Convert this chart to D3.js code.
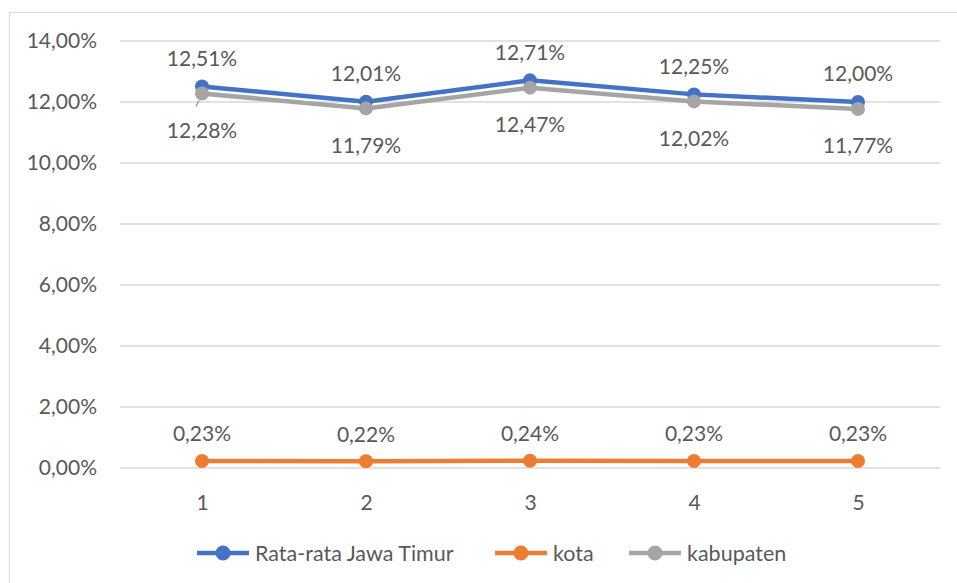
<!DOCTYPE html>
<html>
<head>
<meta charset="utf-8">
<script src="https://cdn.jsdelivr.net/npm/d3@7"></script>
<style>
  body { margin: 0; background: #fff; }
  text { font-family: Lato, "Open Sans", sans-serif; fill: #595959; }
</style>
</head>
<body>
<div id="chart"></div>
<script>
const categories = ["1", "2", "3", "4", "5"];
const rataRata = [12.51, 12.01, 12.71, 12.25, 12.00];
const kota = [0.23, 0.22, 0.24, 0.23, 0.23];
const kabupaten = [12.28, 11.79, 12.47, 12.02, 11.77];
const yTicks = [0, 2, 4, 6, 8, 10, 12, 14];

const series = [
    {name: "Rata-rata Jawa Timur", values: rataRata, color: "#4472C4", labelDy: -28},
    {name: "kota", values: kota, color: "#ED7D31", labelDy: -27},
    {name: "kabupaten", values: kabupaten, color: "#A5A5A5", labelDy: 37}
];

const W = 957, H = 583;
const margin = {top: 41, right: 17, bottom: 115, left: 120};
const width = W - margin.left - margin.right;
const height = H - margin.top - margin.bottom;
const numSize = "21px";

const fmt = v => v.toFixed(2).replace(".", ",") + "%";

const root = d3.select("#chart")
    .append("svg")
    .attr("width", W)
    .attr("height", H);

// outer chart border
root.append("rect")
    .attr("x", 9.5)
    .attr("y", 12.5)
    .attr("width", W)
    .attr("height", H)
    .attr("fill", "none")
    .attr("stroke", "#D9D9D9");

const svg = root.append("g")
    .attr("transform", `translate(${margin.left}, ${margin.top})`);

const x = d3.scalePoint()
    .domain(categories)
    .range([0, width])
    .padding(0.5);

const y = d3.scaleLinear()
    .domain([0, 14])
    .range([height, 0]);

// gridlines
svg.append("g")
    .selectAll("line")
    .data(yTicks)
    .enter()
    .append("line")
    .attr("x1", 0)
    .attr("x2", width)
    .attr("y1", d => y(d))
    .attr("y2", d => y(d))
    .attr("stroke", "#D9D9D9")
    .attr("stroke-width", 1.3);

// y axis labels
const yAxis = svg.append("g")
    .call(d3.axisLeft(y).tickValues(yTicks).tickFormat(fmt).tickSize(0).tickPadding(23));
yAxis.select(".domain").remove();
yAxis.selectAll("text")
    .style("font-size", numSize)
    .style("font-family", "Lato, sans-serif")
    .attr("fill", "#595959");

// x axis labels
const xAxis = svg.append("g")
    .attr("transform", `translate(0, ${height})`)
    .call(d3.axisBottom(x).tickSize(0).tickPadding(27));
xAxis.select(".domain").remove();
xAxis.selectAll("text")
    .style("font-size", numSize)
    .style("font-family", "Lato, sans-serif")
    .attr("fill", "#595959");

const line = d3.line()
    .x((d, i) => x(categories[i]))
    .y(d => y(d));

// draw kota first, then blue, then gray on top
[series[1], series[0], series[2]].forEach(s => {
    svg.append("path")
        .datum(s.values)
        .attr("fill", "none")
        .attr("stroke", s.color)
        .attr("stroke-width", 4.5)
        .attr("stroke-linejoin", "round")
        .attr("d", line);

    svg.selectAll(null)
        .data(s.values)
        .enter()
        .append("circle")
        .attr("cx", (d, i) => x(categories[i]))
        .attr("cy", d => y(d))
        .attr("r", 7)
        .attr("fill", s.color);
});

// small leader line on first kabupaten label
svg.append("line")
    .attr("x1", x(categories[0]) - 3)
    .attr("y1", y(kabupaten[0]) + 7)
    .attr("x2", x(categories[0]) - 6)
    .attr("y2", y(kabupaten[0]) + 13)
    .attr("stroke", "#A5A5A5")
    .attr("stroke-width", 1.5);

// data labels
series.forEach(s => {
    svg.selectAll(null)
        .data(s.values)
        .enter()
        .append("text")
        .attr("x", (d, i) => x(categories[i]))
        .attr("y", d => y(d) + s.labelDy)
        .attr("dy", "0.35em")
        .attr("text-anchor", "middle")
        .style("font-size", numSize)
        .text(d => fmt(d));
});

// legend
const legendX = [197, 495, 629];
const legend = root.append("g")
    .attr("transform", "translate(0, 553)");
series.forEach((s, i) => {
    const g = legend.append("g").attr("transform", `translate(${legendX[i]}, 0)`);
    g.append("line")
        .attr("x1", 0)
        .attr("x2", 52)
        .attr("stroke", s.color)
        .attr("stroke-width", 4.5);
    g.append("circle")
        .attr("cx", 26)
        .attr("r", 7.5)
        .attr("fill", s.color);
    g.append("text")
        .attr("x", 58)
        .attr("dy", "0.35em")
        .style("font-size", "21.5px")
        .text(s.name);
});
</script>
</body>
</html>
